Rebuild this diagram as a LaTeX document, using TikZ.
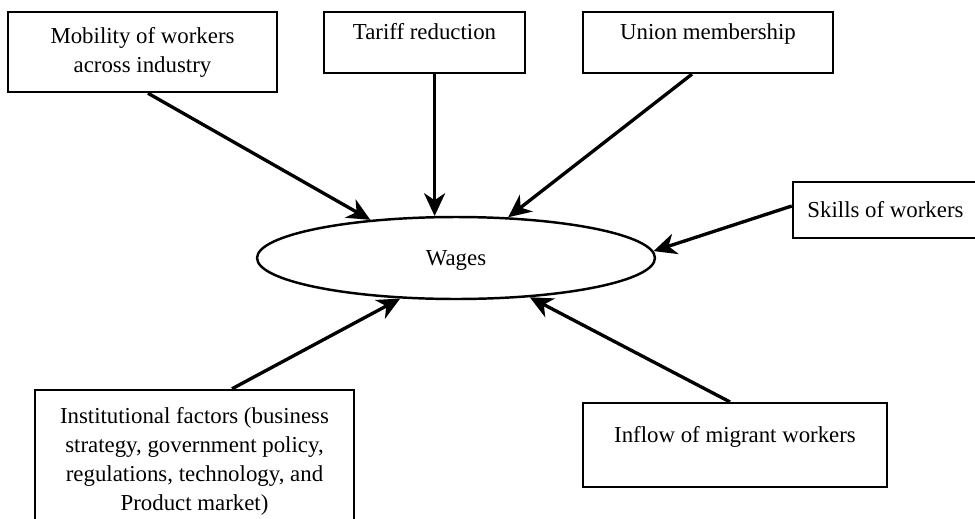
\documentclass[tikz,border=0pt]{standalone}
\usepackage{fontspec}
\setmainfont{Liberation Serif}
\usetikzlibrary{shapes.geometric,arrows.meta,calc}
\begin{document}
\begin{tikzpicture}[x=0.02cm,y=-0.02cm,
  box/.style={draw,line width=1.4pt,rectangle,inner sep=0pt,align=center,font=\fontsize{13}{16.5}\selectfont},
  topbox/.style={box,text height=15.6pt},
  oval/.style={draw,line width=1.4pt,ellipse,inner sep=0pt,font=\fontsize{13}{16.5}\selectfont},
  arr/.style={line width=1.9pt,-{Stealth[length=13pt,width=12pt,inset=4pt]}}]
\path[use as bounding box] (0,0) rectangle (975,518);
\clip (0,0) rectangle (975,518);
\node[box,minimum width=5.38cm,minimum height=1.6cm] (mob) at (142.5,52) {Mobility of workers\\across industry};
\node[topbox,text depth=19pt,minimum width=4.02cm] (tar) at (424.5,42.5) {Tariff reduction};
\node[topbox,text depth=19pt,minimum width=5.0cm] (uni) at (708,42.5) {Union membership};
\node[box,minimum width=3.7cm,minimum height=1.12cm] (ski) at (885.5,210) {Skills of workers};
\node[box,minimum width=6.38cm,minimum height=2.84cm,text depth=2pt] (ins) at (194.5,461) {Institutional factors (business\\strategy, government policy,\\regulations, technology, and\\Product market)};
\node[box,text height=22.1pt,text depth=25.5pt,minimum width=6.08cm] (inf) at (735,445) {Inflow of migrant workers};
\node[oval,minimum width=7.96cm,minimum height=1.64cm,text height=13pt,text depth=5pt] (wag) at (456,258) {Wages};
\draw[arr] ($(mob.south)+(5.5,0)$) -- (wag.156);
\draw[arr] (tar.south -| wag.117) -- (wag.117);
\draw[arr] ($(uni.south)+(-16,0)$) -- (wag.38);
\draw[arr] ($(ski.west)+(0,-4)$) -- (wag.2.5);
\draw[arr] ($(ins.north)+(37.5,0)$) -- (wag.216.7);
\draw[arr] ($(inf.north)+(-5,0)$) -- (wag.332.8);
\end{tikzpicture}
\end{document}
